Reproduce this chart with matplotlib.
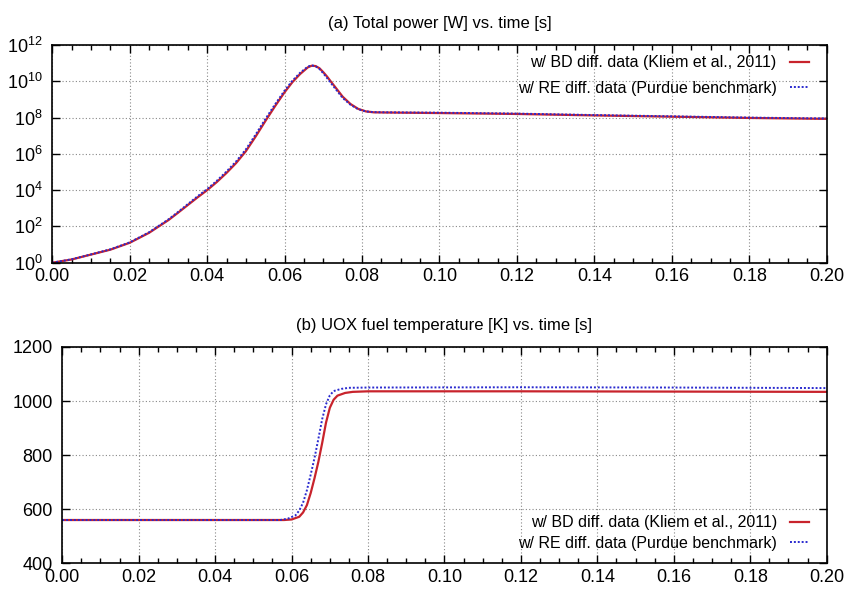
import numpy as np
import matplotlib
matplotlib.use('Agg')
import matplotlib.pyplot as plt
from matplotlib.ticker import MultipleLocator, FixedLocator

plt.rcParams['font.family'] = ['Liberation Sans', 'DejaVu Sans']
plt.rcParams['mathtext.fontset'] = 'custom'
plt.rcParams['mathtext.rm'] = 'Liberation Sans'

# (a) total power, log10 of W
t_pow_bd = [0.0, 0.005, 0.01, 0.015, 0.02, 0.025, 0.03, 0.0325, 0.035, 0.0375, 0.04,
            0.0425, 0.045, 0.0475, 0.05, 0.0525, 0.055, 0.0575, 0.06, 0.062, 0.064,
            0.066, 0.067, 0.068, 0.069, 0.070, 0.071, 0.072, 0.073, 0.075, 0.077,
            0.079, 0.081, 0.083, 0.086, 0.10, 0.12, 0.14, 0.16, 0.18, 0.20]
logp_bd = [0.0, 0.18, 0.45, 0.72, 1.1, 1.65, 2.35, 2.76, 3.18, 3.6, 4.0,
           4.45, 4.95, 5.5, 6.15, 6.95, 7.8, 8.62, 9.4, 9.95, 10.4,
           10.77, 10.86, 10.84, 10.72, 10.5, 10.25, 9.97, 9.7, 9.15, 8.75,
           8.48, 8.34, 8.29, 8.28, 8.25, 8.2, 8.12, 8.05, 7.98, 7.93]
t_pow_re = [0.0, 0.005, 0.01, 0.015, 0.02, 0.025, 0.03, 0.0325, 0.035, 0.0375, 0.04,
            0.0425, 0.045, 0.0475, 0.05, 0.0525, 0.055, 0.0575, 0.06, 0.062, 0.064,
            0.066, 0.067, 0.068, 0.069, 0.070, 0.071, 0.072, 0.073, 0.075, 0.077,
            0.079, 0.081, 0.083, 0.086, 0.10, 0.12, 0.14, 0.16, 0.18, 0.20]
logp_re = [0.0, 0.19, 0.46, 0.74, 1.12, 1.68, 2.39, 2.8, 3.23, 3.66, 4.06,
           4.52, 5.03, 5.59, 6.25, 7.06, 7.91, 8.72, 9.49, 10.03, 10.47,
           10.81, 10.88, 10.83, 10.68, 10.44, 10.17, 9.89, 9.62, 9.08, 8.71,
           8.46, 8.34, 8.3, 8.29, 8.27, 8.22, 8.14, 8.07, 8.0, 7.95]

# (b) UOX fuel temperature, K
t_tmp_bd = [0.0, 0.058, 0.06, 0.062, 0.063, 0.064, 0.065, 0.066, 0.067, 0.068,
            0.069, 0.070, 0.071, 0.072, 0.074, 0.076, 0.08, 0.12, 0.16, 0.20]
temp_bd = [560, 560, 562, 572, 588, 615, 660, 715, 775, 845,
           920, 975, 1005, 1020, 1030, 1034, 1036, 1036, 1035, 1034]
t_tmp_re = [0.0, 0.057, 0.059, 0.061, 0.062, 0.063, 0.064, 0.065, 0.066, 0.067,
            0.068, 0.069, 0.070, 0.071, 0.073, 0.075, 0.08, 0.12, 0.16, 0.20]
temp_re = [560, 560, 565, 577, 595, 624, 670, 728, 790, 860,
           933, 988, 1021, 1037, 1045, 1049, 1050, 1051, 1050, 1048]

label_bd = 'w/ BD diff. data (Kliem et al., 2011)'
label_re = 'w/ RE diff. data (Purdue benchmark)'
red = '#c8232c'
blue = '#2a2acf'

fig = plt.figure(figsize=(8.46, 5.9), dpi=100)
ax1 = fig.add_axes([0.0618, 0.5547, 0.9154, 0.369])
ax2 = fig.add_axes([0.0736, 0.0453, 0.9036, 0.3666])


def style_axis(ax):
    ax.set_xlim(0, 0.2)
    ax.xaxis.set_major_locator(MultipleLocator(0.02))
    ax.xaxis.set_minor_locator(MultipleLocator(0.005))
    ax.xaxis.set_major_formatter(plt.FuncFormatter(lambda v, p: f'{v:.2f}'))
    ax.tick_params(which='both', direction='in', top=True, right=True, labelsize=13)
    ax.tick_params(which='major', length=6, width=1)
    ax.tick_params(which='minor', length=3.5, width=1)
    ax.tick_params(axis='x', pad=4)
    ax.tick_params(axis='y', pad=7)
    ax.grid(True, which='major', color='#888888', linestyle=(0, (1, 2)), linewidth=0.8)
    for s in ax.spines.values():
        s.set_linewidth(1.2)


# top: power
ax1.plot(t_pow_bd, 10 ** np.array(logp_bd), color=red, lw=1.6, label=label_bd)
ax1.plot(t_pow_re, 10 ** np.array(logp_re), color=blue, lw=1.4, linestyle=(0, (1, 1)), label=label_re)
ax1.set_yscale('log')
ax1.set_ylim(1, 1e12)
ax1.yaxis.set_major_locator(FixedLocator([10.0 ** k for k in range(0, 13, 2)]))
ax1.yaxis.set_minor_locator(FixedLocator([]))
style_axis(ax1)
ax1.set_title('(a) Total power [W] vs. time [s]', fontsize=12, pad=12)
ax1.legend(loc='upper right', bbox_to_anchor=(0.985, 0.982), frameon=False,
           markerfirst=False, fontsize=11.5, handlelength=1.2, labelspacing=0.65,
           borderaxespad=0)

# bottom: temperature
ax2.plot(t_tmp_bd, temp_bd, color=red, lw=1.6, label=label_bd)
ax2.plot(t_tmp_re, temp_re, color=blue, lw=1.4, linestyle=(0, (1, 1)), label=label_re)
ax2.set_ylim(400, 1200)
ax2.yaxis.set_major_locator(MultipleLocator(200))
style_axis(ax2)
ax2.set_title('(b) UOX fuel temperature [K] vs. time [s]', fontsize=12, pad=12)
ax2.legend(loc='lower right', bbox_to_anchor=(0.985, 0.028), frameon=False,
           markerfirst=False, fontsize=11.5, handlelength=1.2, labelspacing=0.35,
           borderaxespad=0)

fig.savefig('out.png', dpi=100)
